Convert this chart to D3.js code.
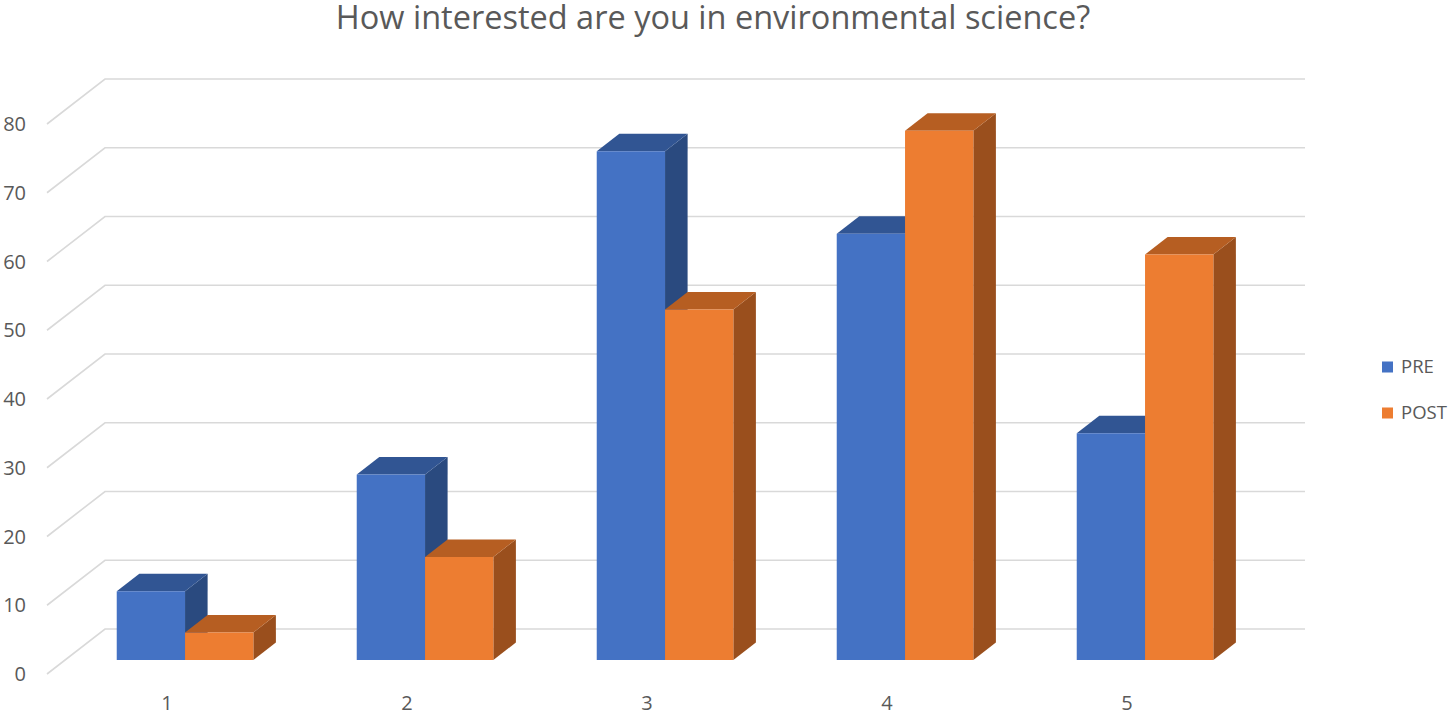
<!DOCTYPE html>
<html><head><meta charset="utf-8">
<script src="https://cdn.jsdelivr.net/npm/d3@7"></script>
<style>body{margin:0;background:#fff}svg{display:block}</style>
</head><body><svg id="c" width="1454" height="714"></svg>
<script>
const categories = ["1","2","3","4","5"];
const seriesNames = ["PRE","POST"];
const preValues = [10,27,74,62,33];
const postValues = [4,15,51,77,59];
const yTicks = [0,10,20,30,40,50,60,70,80];
const chartTitle = "How interested are you in environmental science?";

const colors = {
  PRE:  {front:"#4472C4", top:"#315593", side:"#2A4A7F"},
  POST: {front:"#ED7D31", top:"#B65E22", side:"#9A4F1D"}
};
const series = [
  {name:"PRE", values:preValues},
  {name:"POST", values:postValues}
];

const svg = d3.select("#c");
const font = "'Open Sans', sans-serif";
const textColor = "#595959";

// oblique 3D geometry
const DX = 58, DY = 45;          // full floor depth offset
const dFront = 0.311, dBack = 0.70; // bar depth range
const proj = (x, y, d) => [x + d*DX, y - d*DY];

const y = d3.scaleLinear().domain([0, 80]).range([674, 124]);
const x = d3.scaleBand().domain(categories).range([47, 1247]).paddingInner(0).paddingOuter(0);
const inner = d3.scaleBand().domain(seriesNames).range([51.7, 240 - 51.7]);

// title
svg.append("text").attr("x", 713).attr("y", 29)
  .attr("text-anchor", "middle").attr("font-family", font)
  .attr("font-size", 32.5).attr("fill", textColor).text(chartTitle);

// gridlines (side diagonal + back wall)
const grid = svg.append("g").attr("stroke", "#d9d9d9").attr("stroke-width", 1.6).attr("fill", "none");
yTicks.forEach(t => {
  const p0 = proj(x.range()[0], y(t), 0);
  const p1 = proj(x.range()[0], y(t), 1);
  const p2 = proj(x.range()[1], y(t), 1);
  grid.append("path").attr("d", d3.line()([p0, p1, p2]));
});

// y tick labels
svg.append("g").selectAll("text").data(yTicks).join("text")
  .attr("x", 26).attr("y", d => y(d)).attr("dy", "0.35em")
  .attr("text-anchor", "end").attr("font-family", font).attr("font-size", 20)
  .attr("fill", textColor).text(d => d);

// category labels
svg.append("g").selectAll("text").data(categories).join("text")
  .attr("x", d => x(d) + x.bandwidth()/2).attr("y", 703).attr("dy", "0.35em")
  .attr("text-anchor", "middle").attr("font-family", font).attr("font-size", 20)
  .attr("fill", textColor).text(d => d);

// bars
const bars = svg.append("g");
const poly = pts => d3.line()(pts) + "Z";
categories.forEach((c, i) => {
  series.forEach(s => {
    const v = s.values[i];
    const xl = x(c) + inner(s.name), xr = xl + inner.bandwidth();
    const yb = y(0), yt = y(v);
    const col = colors[s.name];
    const fbl = proj(xl, yb, dFront), fbr = proj(xr, yb, dFront);
    const ftl = proj(xl, yt, dFront), ftr = proj(xr, yt, dFront);
    const bbr = proj(xr, yb, dBack), btl = proj(xl, yt, dBack), btr = proj(xr, yt, dBack);
    bars.append("path").attr("d", poly([fbr, ftr, btr, bbr])).attr("fill", col.side);
    bars.append("path").attr("d", poly([ftl, ftr, btr, btl])).attr("fill", col.top);
    bars.append("path").attr("d", poly([fbl, fbr, ftr, ftl])).attr("fill", col.front);
  });
});

// legend
const lg = svg.append("g");
series.forEach((s, k) => {
  const cy = 367 + k*46;
  lg.append("rect").attr("x", 1382).attr("y", cy - 5.5).attr("width", 11).attr("height", 11)
    .attr("fill", colors[s.name].front);
  lg.append("text").attr("x", 1401).attr("y", cy).attr("dy", "0.35em")
    .attr("font-family", font).attr("font-size", 18.5).attr("fill", textColor).text(s.name);
});
</script></body></html>
